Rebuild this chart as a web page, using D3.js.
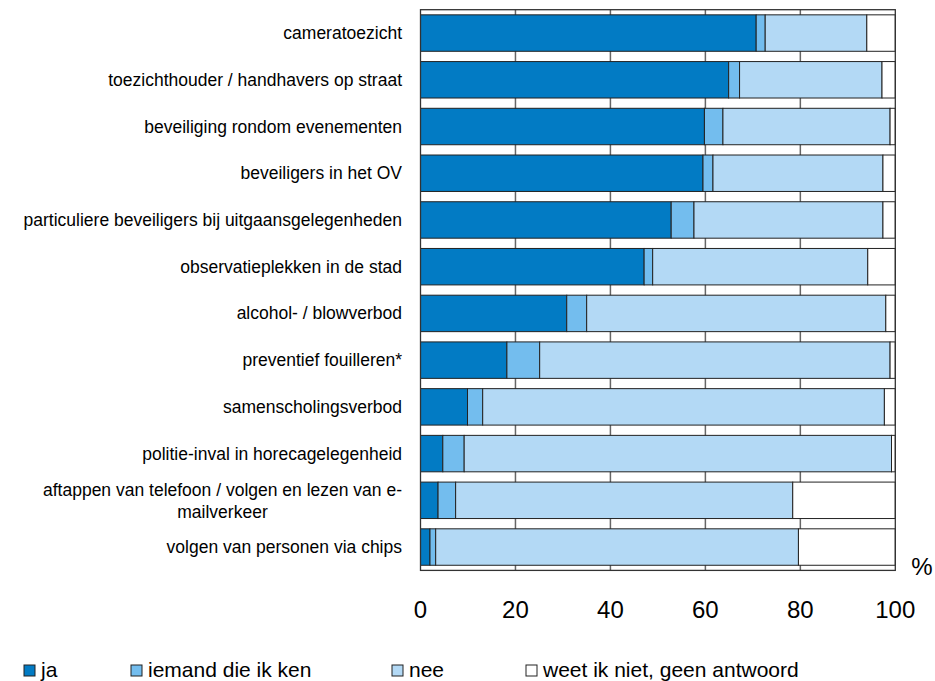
<!DOCTYPE html>
<html>
<head>
<meta charset="utf-8">
<script src="https://cdn.jsdelivr.net/npm/d3@7"></script>
<style>
body{margin:0;background:#fff}
text{font-family:"Liberation Sans",Arial,sans-serif;fill:#000}
</style>
</head>
<body>
<div id="chart"></div>
<script>
var categories = ["cameratoezicht",
"toezichthouder / handhavers op straat",
"beveiliging rondom evenementen",
"beveiligers in het OV",
"particuliere beveiligers bij uitgaansgelegenheden",
"observatieplekken in de stad",
"alcohol- / blowverbod",
"preventief fouilleren*",
"samenscholingsverbod",
"politie-inval in horecagelegenheid",
"aftappen van telefoon / volgen en lezen van e-|mailverkeer",
"volgen van personen via chips"]

var series = ["ja","iemand die ik ken","nee","weet ik niet, geen antwoord"]
var ja     = [70.7,64.9,59.8,59.5,52.8,47.1,30.8,18.2,9.9,4.7,3.7,2.0]
var iemand = [1.9,2.3,3.9,2.1,4.8,1.8,4.2,6.9,3.2,4.5,3.7,1.2]
var nee    = [21.4,30.0,35.2,35.8,39.8,45.3,63.0,73.8,84.6,90.0,71.0,76.4]
var weet   = [6.0,2.8,1.1,2.6,2.6,5.8,2.0,1.1,2.3,0.8,21.6,20.4]
var ticks = [0,20,40,60,80,100]

var colors = ["#027bc4","#73bdee","#b3d9f5","#ffffff"]

var w = 935
var h = 681

var svg = d3.select("#chart").append("svg").attr("width",w).attr("height",h)

var rows = categories.map(function(c,i){
	return {cat:c,ja:ja[i],iemand:iemand[i],nee:nee[i],weet:weet[i]}
})
var keys = ["ja","iemand","nee","weet"]
var stack = d3.stack().keys(keys)(rows)

var x = d3.scaleLinear().domain([0,100]).range([420.5,895.3])
var y = d3.scaleBand().domain(categories).range([9.7,570.4]).paddingInner(0.22).paddingOuter(0.11)

// gridlines
svg.append("g").selectAll("line")
.data(ticks.slice(1,-1))
.enter()
.append("line")
.attr("x1",function(d){return x(d)})
.attr("x2",function(d){return x(d)})
.attr("y1",y.range()[0])
.attr("y2",y.range()[1])
.attr("stroke","#666")
.attr("stroke-width",1.5)

// bars
svg.append("g").selectAll("g")
.data(stack)
.enter()
.append("g")
.attr("fill",function(d,i){return colors[i]})
.selectAll("rect")
.data(function(d){return d})
.enter()
.append("rect")
.attr("x",function(d){return x(d[0])})
.attr("width",function(d){return x(d[1])-x(d[0])})
.attr("y",function(d){return y(d.data.cat)})
.attr("height",y.bandwidth())
.attr("stroke","#222")
.attr("stroke-width",1)

// plot border
svg.append("rect")
.attr("x",x(0)).attr("y",y.range()[0])
.attr("width",x(100)-x(0)).attr("height",y.range()[1]-y.range()[0])
.attr("fill","none").attr("stroke","#333").attr("stroke-width",1.3)

// category labels
var labelSize = "17.5px"
svg.append("g").selectAll("text")
.data(categories)
.enter()
.append("text")
.style("font-size",labelSize)
.each(function(d){
	var t = d3.select(this)
	var lines = d.split("|")
	var cy = y(d)+y.bandwidth()/2
	if(lines.length==1){
		t.attr("x",402).attr("y",cy+6).attr("text-anchor","end").text(d)
	}else{
		t.attr("x",402).attr("y",cy-4).attr("text-anchor","end").text(lines[0])
		var lw = this.getComputedTextLength()
		svg.append("text").attr("x",402-lw/2).attr("y",cy+18).attr("text-anchor","middle")
		.style("font-size",labelSize).text(lines[1])
	}
})

// x axis labels
svg.append("g").selectAll("text")
.data(ticks)
.enter()
.append("text")
.attr("x",function(d){return x(d)})
.attr("y",618)
.attr("text-anchor","middle")
.style("font-size","24px")
.text(function(d){return d})

svg.append("text").attr("x",922).attr("y",575).attr("text-anchor","middle")
.style("font-size","24px").text("%")

// legend
var legendX = [24,131,392,526]
var lg = svg.append("g").selectAll("g")
.data(series)
.enter()
.append("g")
.attr("transform",function(d,i){return "translate("+legendX[i]+",665)"})
lg.append("rect").attr("width",11).attr("height",11).attr("y",0)
.attr("fill",function(d,i){return colors[i]}).attr("stroke","#222").attr("stroke-width",1)
lg.append("text").attr("x",17).attr("y",12).style("font-size","21px").text(function(d){return d})
</script>
</body>
</html>
